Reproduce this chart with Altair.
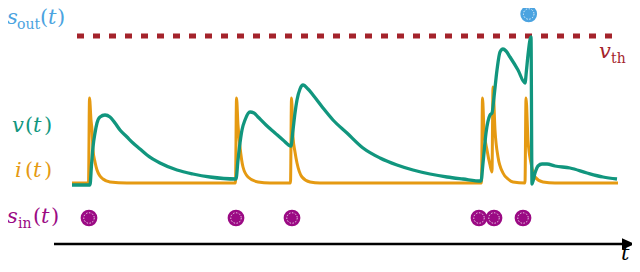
import altair as alt
import pandas as pd

# ---- data (x: time in px units, y: level in px units, top = small) ----
v_t = [72, 90, 91.5, 93, 95, 97, 100, 105, 110, 115, 120, 127, 133, 140, 147, 160, 177, 193, 210, 236,
       238, 240, 242, 245, 250, 254, 258, 266, 275, 283, 291,
       293, 295, 297, 300, 303, 308, 313, 323, 333, 347, 363, 380, 397, 413, 430, 447, 463, 481,
       483, 486, 490, 492, 494, 497, 500, 503, 506, 510, 518, 525, 526.5, 528, 531,
       532, 535, 538, 542, 547, 555, 570, 587, 603, 617]
v_val = [185, 185, 165, 147, 133, 123, 117, 115, 117, 123, 130, 137, 143, 149, 155, 163, 170, 174, 177, 179,
         160, 143, 130, 120, 112, 113, 117, 125, 133, 140, 146,
         130, 113, 100, 89, 85, 89, 95, 108, 120, 133, 148, 158, 165, 170, 174, 177, 179, 181,
         163, 133, 115, 113, 97, 70, 52, 49, 51, 57, 70, 83, 70, 55, 37,
         184, 173, 166, 164, 164, 166, 168, 173, 177, 179]

i_t = [72, 88.5, 89.5, 91, 92, 93, 95, 97, 100, 103, 110, 127,
       235.5, 236.5, 238, 240, 243, 248, 258, 270,
       290.5, 291.5, 293, 295, 297, 302, 310, 320,
       481.5, 482.5, 484, 487, 490, 492, 493, 495, 498, 503, 508, 513,
       525, 526, 528, 531, 535, 543, 555, 618]
i_val = [183, 183, 98, 120, 130, 150, 162, 170, 176, 179, 182, 183,
         183, 98, 125, 147, 167, 177, 182, 183,
         183, 98, 137, 152, 163, 177, 182, 183,
         183, 98, 130, 150, 165, 172, 87, 130, 157, 173, 179, 182,
         183, 98, 140, 163, 177, 182, 183, 183]

input_spikes = [89, 236, 292, 479, 494, 523]
input_row = [218] * len(input_spikes)
output_spikes = [528.7]
output_row = [14]
threshold = [36]
threshold_span = [77, 612]
time_axis = [54, 624, 244]

labels = [
    # text, x, y, size, color, italic
    ("s", 7, 24, 21, "#4BA3E0", True), ("out", 17, 29, 14, "#4BA3E0", False),
    ("(", 40, 24, 21, "#4BA3E0", False), ("t", 48, 24, 21, "#4BA3E0", True), (")", 57, 24, 21, "#4BA3E0", False),
    ("v", 12, 132, 21, "#11967E", True), ("(", 25, 132, 21, "#11967E", False),
    ("t", 33, 132, 21, "#11967E", True), (")", 44, 132, 21, "#11967E", False),
    ("i", 15, 177, 21, "#E59A12", True), ("(", 25, 177, 21, "#E59A12", False),
    ("t", 33, 177, 21, "#E59A12", True), (")", 44, 177, 21, "#E59A12", False),
    ("s", 7, 223, 21, "#9B0A84", True), ("in", 18, 228, 14, "#9B0A84", False),
    ("(", 33, 223, 21, "#9B0A84", False), ("t", 41, 223, 21, "#9B0A84", True), (")", 51, 223, 21, "#9B0A84", False),
    ("v", 599, 58, 21, "#A4232B", True), ("th", 611, 63, 14, "#A4232B", False),
    ("t", 621, 260, 21, "#000000", True),
]

TEAL = "#11967E"
ORANGE = "#E59A12"
BLUE = "#4BA3E0"
PURPLE = "#9B0A84"
DARKRED = "#A4232B"
FONT = "DejaVu Serif"

xs = alt.Scale(domain=[8, 632], nice=False, zero=False)
ys = alt.Scale(domain=[8, 264], nice=False, zero=False, reverse=True)

def X(f="x"):
    return alt.X(f"{f}:Q", scale=xs, axis=None)

def Y(f="y"):
    return alt.Y(f"{f}:Q", scale=ys, axis=None)

v_df = pd.DataFrame({"x": v_t, "y": v_val})
i_df = pd.DataFrame({"x": i_t, "y": i_val})
in_df = pd.DataFrame({"x": input_spikes, "y": input_row})
out_df = pd.DataFrame({"x": output_spikes, "y": output_row})
th_df = pd.DataFrame({"x": [threshold_span[0]], "x2": [threshold_span[1]], "y": threshold})
ax_df = pd.DataFrame({"x": [time_axis[0]], "x2": [time_axis[1]], "y": [time_axis[2]]})
arrow_df = pd.DataFrame({"x": [time_axis[1] + 4.5], "y": [time_axis[2]]})
lab_df = pd.DataFrame(labels, columns=["txt", "x", "y", "size", "color", "italic"])

thr = alt.Chart(th_df).mark_rule(color=DARKRED, strokeWidth=5, strokeDash=[7, 9], strokeCap="butt").encode(
    x=X(), x2="x2:Q", y=Y())

i_line = alt.Chart(i_df).mark_line(color=ORANGE, strokeWidth=3, interpolate="monotone",
                                   strokeJoin="round").encode(x=X(), y=Y())
v_line = alt.Chart(v_df).mark_line(color=TEAL, strokeWidth=3.3, interpolate="monotone",
                                   strokeJoin="round").encode(x=X(), y=Y())

in_dots = alt.Chart(in_df).mark_point(filled=True, size=280, color=PURPLE, opacity=1).encode(x=X(), y=Y())
in_rings = alt.Chart(in_df).mark_point(filled=False, size=110, color="white", strokeWidth=0.8,
                                       strokeDash=[1.5, 1.5], opacity=1).encode(x=X(), y=Y())
out_dots = alt.Chart(out_df).mark_point(filled=True, size=280, color=BLUE, opacity=1).encode(x=X(), y=Y())
out_rings = alt.Chart(out_df).mark_point(filled=False, size=110, color="white", strokeWidth=0.8,
                                         strokeDash=[1.5, 1.5], opacity=1).encode(x=X(), y=Y())

axis_line = alt.Chart(ax_df).mark_rule(color="black", strokeWidth=2.5).encode(x=X(), x2="x2:Q", y=Y())
arrow = alt.Chart(arrow_df).mark_point(shape="M-1,-0.9L1,0L-1,0.9Z", filled=True, size=169,
                                       color="black", opacity=1).encode(x=X(), y=Y())

def text_layer(italic):
    return alt.Chart(lab_df[lab_df["italic"] == italic]).mark_text(
        font=FONT, fontStyle="italic" if italic else "normal",
        align="left", baseline="alphabetic").encode(
        x=X(), y=Y(), text="txt:N",
        size=alt.Size("size:Q", scale=None),
        color=alt.Color("color:N", scale=None))

chart = alt.layer(
    thr, i_line, v_line, in_dots, in_rings, out_dots, out_rings, axis_line, arrow,
    text_layer(True), text_layer(False)
).properties(
    width=624, height=256, padding=0, autosize=alt.AutoSizeParams(type="none")
).configure_view(stroke=None)

chart.save("out.html", embed_options={"renderer": "svg", "actions": False})
